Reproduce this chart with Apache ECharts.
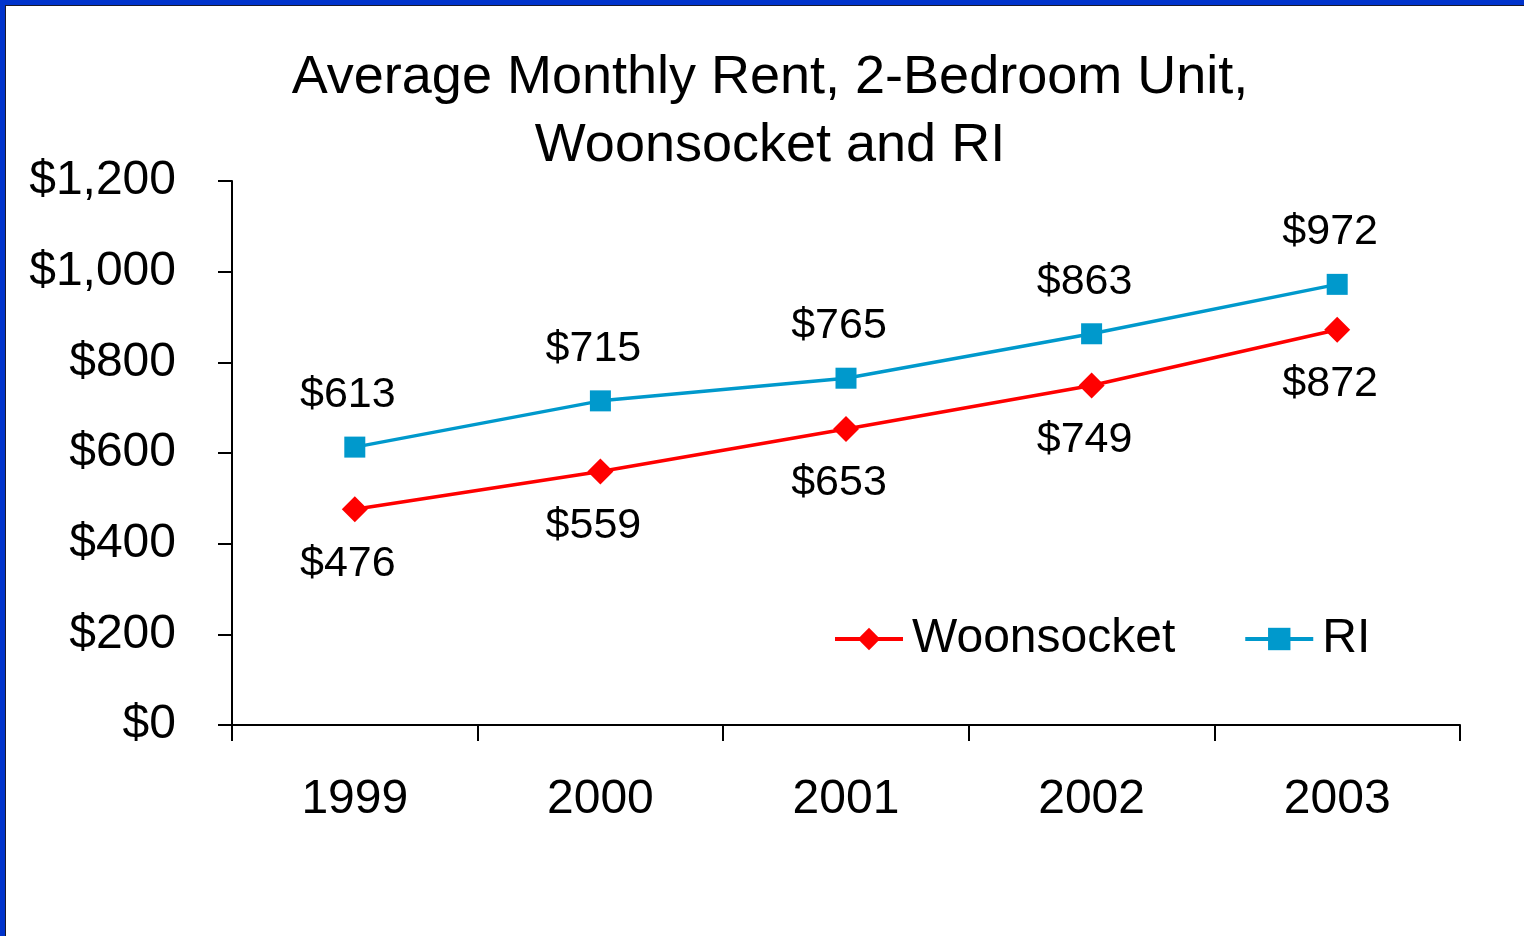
<!DOCTYPE html>
<html>
<head>
<meta charset="utf-8">
<script src="https://cdn.jsdelivr.net/npm/echarts@6/dist/echarts.min.js"></script>
<style>
  html, body {
    margin: 0;
    padding: 0;
    width: 1524px;
    height: 936px;
    overflow: hidden;
    background: #0033cc;
  }
  .frame {
    position: absolute;
    left: 5px;
    top: 5px;
    width: 1519px;
    height: 931px;
    border-left: 1px solid #1a1a2a;
    border-top: 1px solid #1a1a2a;
    background: #ffffff;
  }
  #chart {
    width: 1518px;
    height: 930px;
  }
</style>
</head>
<body>
<div class="frame"><div id="chart"></div></div>
<script>
  // years on the x axis
  const years = ['1999', '2000', '2001', '2002', '2003']
  // average monthly rent, 2-bedroom unit
  const woonsocketRent = [476, 559, 653, 749, 872]
  const riRent = [613, 715, 765, 863, 972]

  const fontFamily = '"Liberation Sans", Arial, sans-serif'
  const money = (v) => '$' + v.toLocaleString('en-US')

  const chart = echarts.init(document.getElementById('chart'))
  chart.setOption({
    animation: false,
    backgroundColor: '#ffffff',
    title: {
      text: 'Average Monthly Rent, 2-Bedroom Unit,\nWoonsocket and RI',
      left: 759,
      top: 33,
      textAlign: 'center',
      textStyle: {
        fontFamily,
        fontSize: 54,
        fontWeight: 'normal',
        color: '#000',
        lineHeight: 68,
      },
    },
    legend: {
      left: 822,
      top: 604,
      itemWidth: 68,
      itemHeight: 28,
      itemGap: 68,
      lineStyle: { width: 4 },
      textStyle: { fontFamily, fontSize: 48, color: '#000', padding: [0, 0, 0, 4] },
      data: ['Woonsocket', 'RI'],
    },
    grid: { left: 226, right: 64, top: 175, bottom: 211 },
    xAxis: {
      type: 'category',
      data: years,
      boundaryGap: true,
      axisLine: { lineStyle: { color: '#000', width: 2 } },
      axisTick: { show: true, alignWithLabel: false, length: 16, lineStyle: { color: '#000', width: 2 } },
      axisLabel: { fontFamily, fontSize: 48, color: '#000', margin: 51 },
    },
    yAxis: {
      type: 'value',
      min: 0,
      max: 1200,
      interval: 200,
      splitLine: { show: false },
      axisLine: { show: true, lineStyle: { color: '#000', width: 2 } },
      axisTick: { show: true, length: 14, lineStyle: { color: '#000', width: 2 } },
      axisLabel: { fontFamily, fontSize: 48, color: '#000', margin: 56, formatter: money },
    },
    series: [
      {
        name: 'Woonsocket',
        type: 'line',
        data: woonsocketRent,
        color: '#ff0000',
        symbol: 'diamond',
        symbolSize: 26,
        lineStyle: { width: 3.5 },
        label: {
          show: true,
          position: 'bottom',
          distance: 20,
          offset: [-7, 0],
          fontFamily,
          fontSize: 43,
          color: '#000',
          formatter: (p) => money(p.value),
        },
      },
      {
        name: 'RI',
        type: 'line',
        data: riRent,
        color: '#0099cc',
        symbol: 'rect',
        symbolSize: 21,
        lineStyle: { width: 3.5 },
        label: {
          show: true,
          position: 'top',
          distance: 20,
          offset: [-7, 0],
          fontFamily,
          fontSize: 43,
          color: '#000',
          formatter: (p) => money(p.value),
        },
      },
    ],
  })
</script>
</body>
</html>
